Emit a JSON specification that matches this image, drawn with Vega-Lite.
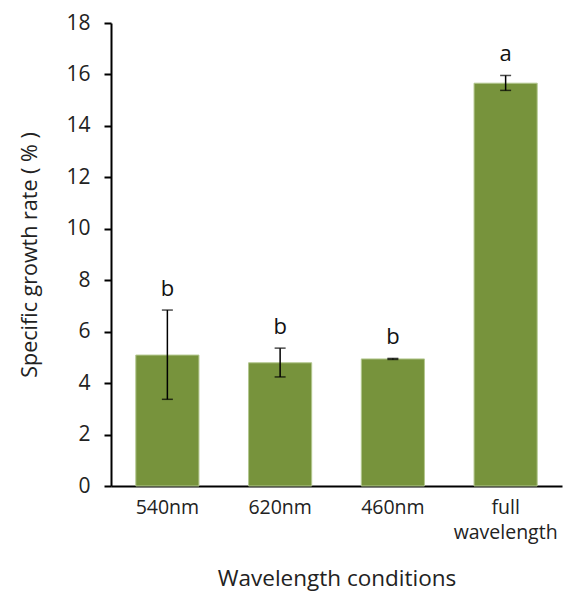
{
  "$schema": "https://vega.github.io/schema/vega-lite/v6.json",
  "autosize": {"type": "none"},
  "padding": {"left": 111, "top": 23, "right": 2, "bottom": 107},
  "width": 451,
  "height": 463,
  "background": "white",
  "config": {
    "view": {"stroke": null},
    "font": "Open Sans",
    "axis": {"labelFont": "Open Sans", "titleFont": "Open Sans", "labelColor": "#222", "titleColor": "#222", "grid": false}
  },
  "data": {
    "values": [
      {"condition": "540nm", "rate": 5.09, "lo": 3.37, "hi": 6.84, "group": "b"},
      {"condition": "620nm", "rate": 4.79, "lo": 4.24, "hi": 5.36, "group": "b"},
      {"condition": "460nm", "rate": 4.94, "lo": 4.92, "hi": 4.96, "group": "b"},
      {"condition": "full wavelength", "rate": 15.66, "lo": 15.38, "hi": 15.96, "group": "a"}
    ]
  },
  "encoding": {
    "x": {
      "field": "condition",
      "type": "nominal",
      "sort": null,
      "scale": {"paddingInner": 0.44, "paddingOuter": 0.22},
      "axis": {
        "title": "Wavelength conditions",
        "titleFontSize": 22.5,
        "titleFontWeight": "normal",
        "titleY": 99,
        "titleBaseline": "alphabetic",
        "labelAngle": 0,
        "labelFontSize": 19.5,
        "labelPadding": 12,
        "labelLineHeight": 25,
        "labelExpr": "datum.label == 'full wavelength' ? ['full', 'wavelength'] : datum.label",
        "ticks": false,
        "domainColor": "black",
        "domainWidth": 2
      }
    }
  },
  "layer": [
    {
      "mark": {"type": "bar", "color": "#77933C", "stroke": "#b3c78f", "strokeWidth": 1},
      "encoding": {
        "y": {
          "field": "rate",
          "type": "quantitative",
          "scale": {"domain": [0, 18], "nice": false},
          "axis": {
            "title": "Specific growth rate ( % )",
            "titleFontSize": 21.5,
            "titleFontWeight": "normal",
            "titleX": -81,
            "titleY": 231.5,
            "titleAlign": "center",
            "titleBaseline": "middle",
            "values": [0, 2, 4, 6, 8, 10, 12, 14, 16, 18],
            "labelFontSize": 21,
            "labelPadding": 14,
            "tickSize": 7,
            "tickColor": "black",
            "tickWidth": 2,
            "domainColor": "black",
            "domainWidth": 2
          }
        }
      }
    },
    {
      "mark": {"type": "rule", "color": "black", "strokeWidth": 1.5},
      "encoding": {
        "y": {"field": "lo", "type": "quantitative"},
        "y2": {"field": "hi"}
      }
    },
    {
      "mark": {"type": "tick", "color": "black", "size": 11, "thickness": 1.5, "orient": "horizontal"},
      "encoding": {"y": {"field": "lo", "type": "quantitative"}}
    },
    {
      "mark": {"type": "tick", "color": "black", "size": 11, "thickness": 1.5, "orient": "horizontal"},
      "encoding": {"y": {"field": "hi", "type": "quantitative"}}
    },
    {
      "mark": {"type": "text", "fontSize": 22, "color": "#111", "baseline": "alphabetic", "dy": -14},
      "encoding": {
        "y": {"field": "hi", "type": "quantitative"},
        "text": {"field": "group"}
      }
    }
  ]
}
